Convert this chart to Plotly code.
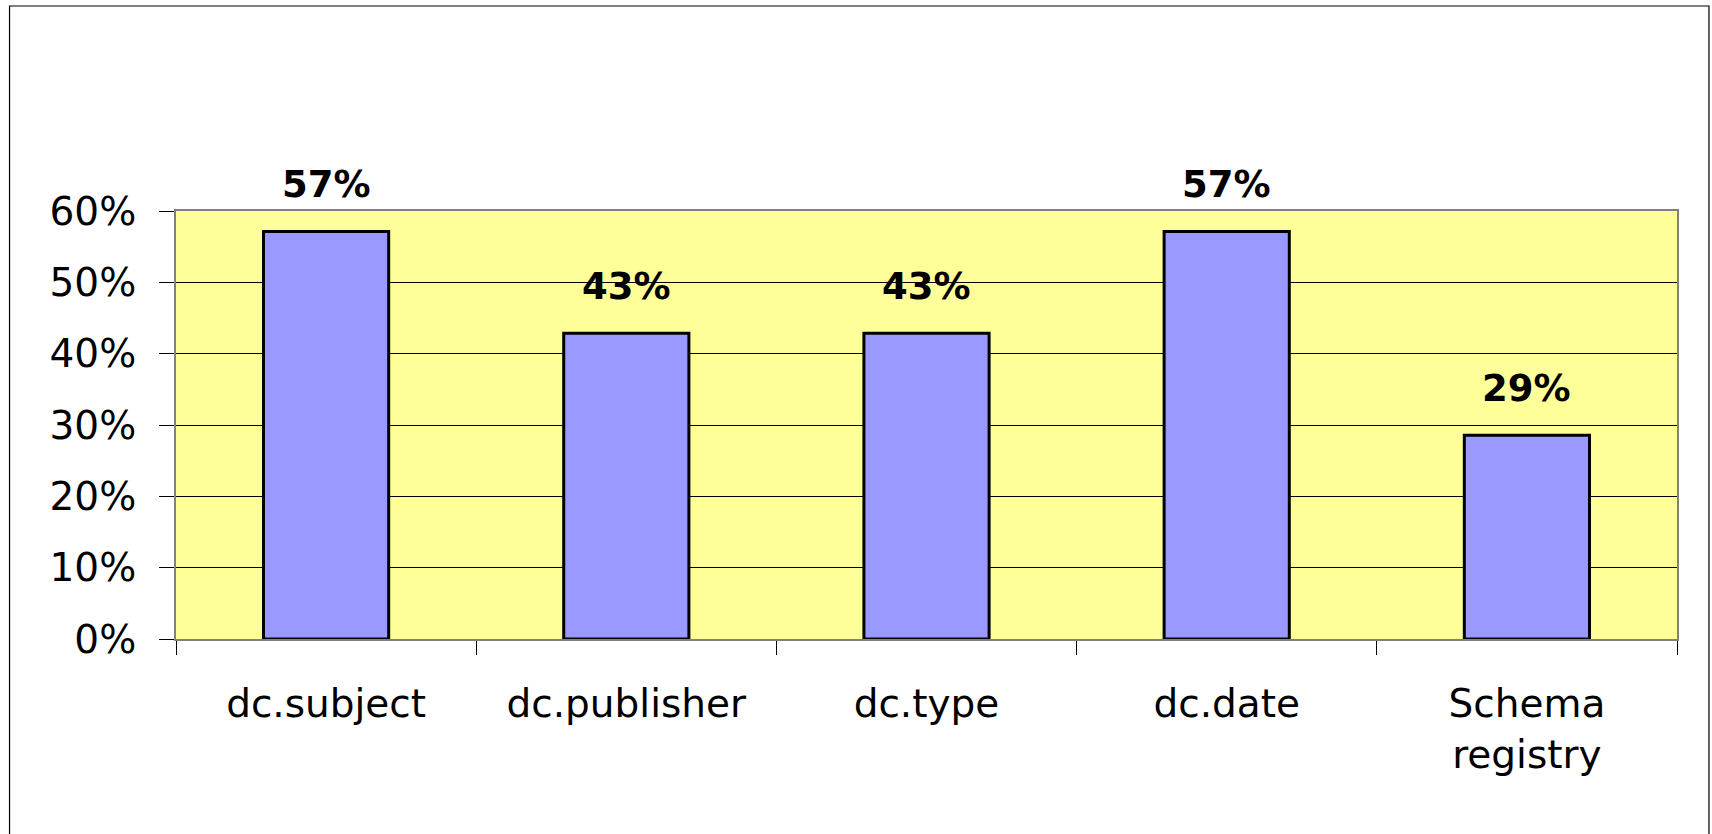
import plotly.graph_objects as go

categories = ["dc.subject", "dc.publisher", "dc.type", "dc.date", "Schema<br>registry"]
values = [0.5714, 0.4286, 0.4286, 0.5714, 0.2857]
labels = ["57%", "43%", "43%", "57%", "29%"]
y_ticks = [0, 0.1, 0.2, 0.3, 0.4, 0.5, 0.6]

FONT = "DejaVu Sans, Liberation Sans, Arial, sans-serif"

fig = go.Figure()
fig.add_trace(go.Bar(
    x=categories, y=values,
    marker=dict(color="#9999FF", line=dict(color="black", width=3)),
    hoverinfo="skip",
))

for c, v, t in zip(categories, values, labels):
    fig.add_annotation(x=c, y=v, text="<b>%s</b>" % t, showarrow=False,
                       yanchor="bottom", yshift=23,
                       font=dict(family=FONT, size=37, color="black"))

# outer frame
fig.add_shape(type="rect", xref="paper", yref="paper",
              x0=-0.1109, x1=1.0213, y0=-0.6, y1=1.479,
              line=dict(color="black", width=1.2), layer="below")

fig.update_layout(
    width=1712, height=834,
    margin=dict(l=176, r=35, t=211, b=195),
    paper_bgcolor="white", plot_bgcolor="#FFFF99",
    bargap=0.583, showlegend=False,
    font=dict(family=FONT, size=39, color="black"),
)
fig.update_xaxes(
    type="category", showline=True, mirror=True, linecolor="#808080", linewidth=2,
    ticks="outside", tickson="boundaries", ticklen=14, tickcolor="black", tickwidth=1,
    showgrid=False, ticklabelstandoff=29,
    tickfont=dict(family=FONT, size=39, color="black"),
)
fig.update_yaxes(
    range=[0, 0.6], tickvals=y_ticks, tickformat=".0%",
    showline=True, mirror=True, linecolor="#808080", linewidth=2,
    ticks="outside", ticklen=15, tickcolor="black", tickwidth=1,
    showgrid=True, gridcolor="black", gridwidth=1, zeroline=False,
    ticklabelstandoff=15,
    tickfont=dict(family=FONT, size=39, color="black"),
)

fig.write_html(
    "out.html",
    config={"displayModeBar": False},
    post_script="document.body.style.margin='0';document.documentElement.style.overflow='hidden';",
)
